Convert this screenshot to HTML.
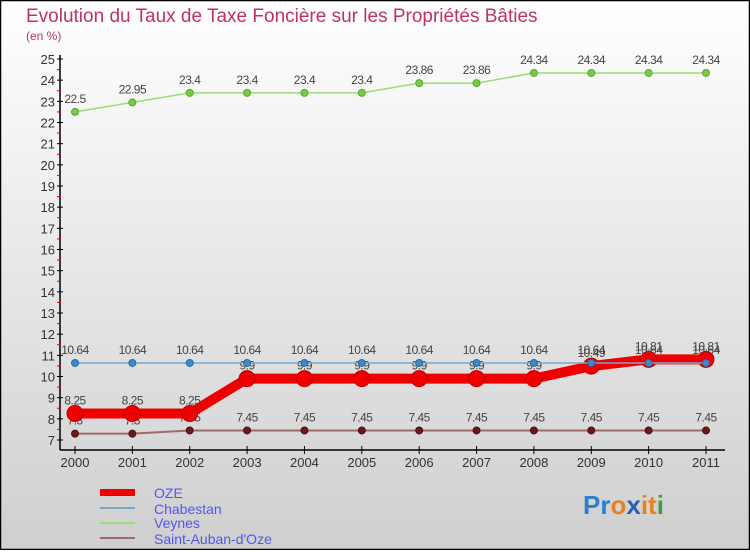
<!DOCTYPE html>
<html><head><meta charset="utf-8"><style>
html,body{margin:0;padding:0;}
body{width:750px;height:550px;overflow:hidden;font-family:"Liberation Sans",sans-serif;}
</style></head><body>
<svg id="chart" width="750" height="550" xmlns="http://www.w3.org/2000/svg">
<defs><linearGradient id="bg" x1="0" y1="0" x2="0" y2="1"><stop offset="0" stop-color="#ffffff"/><stop offset="1" stop-color="#cfcfcf"/></linearGradient></defs>
<rect x="0.5" y="0.5" width="749" height="549" fill="url(#bg)" stroke="#000" stroke-width="1.5"/>
<text x="26" y="22" font-size="19" fill="#c0306a">Evolution du Taux de Taxe Foncière sur les Propriétés Bâties</text>
<text x="26" y="40" font-size="12" fill="#c0306a">(en %)</text>
<g id="plot"></g>
<g>
<rect x="100" y="489" width="35" height="7" fill="#ee0000"/>
<text x="154" y="498" font-size="14" fill="#5555ee">OZE</text>
<line x1="100" y1="508" x2="135" y2="508" stroke="#7aa7c7" stroke-width="2"/>
<text x="154" y="514" font-size="14" fill="#5555ee">Chabestan</text>
<line x1="100" y1="523" x2="135" y2="523" stroke="#99dd77" stroke-width="2"/>
<text x="154" y="528" font-size="14" fill="#5555ee">Veynes</text>
<line x1="100" y1="538" x2="135" y2="538" stroke="#9b6b6b" stroke-width="2"/>
<text x="154" y="544" font-size="14" fill="#5555ee">Saint-Auban-d'Oze</text>
</g>
<g font-size="26" font-weight="bold">
<text x="583" y="514"><tspan fill="#2a7fd4">Pr</tspan><tspan fill="#e8821e">o</tspan><tspan fill="#2a5fb4">x</tspan><tspan fill="#e8821e">it</tspan><tspan fill="#3aa040">i</tspan></text>
</g>
</svg>
<script>
const years = [2000,2001,2002,2003,2004,2005,2006,2007,2008,2009,2010,2011];
const ozeValues = [8.25,8.25,8.25,9.9,9.9,9.9,9.9,9.9,9.9,10.49,10.81,10.81];
const chabestanValues = [10.64,10.64,10.64,10.64,10.64,10.64,10.64,10.64,10.64,10.64,10.64,10.64];
const veynesValues = [22.5,22.95,23.4,23.4,23.4,23.4,23.86,23.86,24.34,24.34,24.34,24.34];
const saintAubanValues = [7.3,7.3,7.45,7.45,7.45,7.45,7.45,7.45,7.45,7.45,7.45,7.45];
const yTicks = [7,8,9,10,11,12,13,14,15,16,17,18,19,20,21,22,23,24,25];

const NS="http://www.w3.org/2000/svg";
const plot=document.getElementById('plot');
const x=i=>75+i*(706-75)/(years.length-1);
const y=v=>440-(v-7)*(440-59)/18;
function mk(tag,attrs,parent){const e=document.createElementNS(NS,tag);for(const k in attrs)e.setAttribute(k,attrs[k]);(parent||plot).appendChild(e);return e;}

// axes
const ax=mk('g',{});


const ya=mk('line',{x1:60,y1:55,x2:60,y2:450,stroke:'#000','stroke-width':1.5},ax);


const xa=mk('line',{x1:60,y1:450,x2:725,y2:450,stroke:'#000','stroke-width':1.5},ax);


yTicks.forEach((t,i)=>{
  const tk=mk('line',{x1:57,y1:y(t),x2:63,y2:y(t),stroke:'#000'},ax);
  
  
  if(i<yTicks.length-1){const m=mk('line',{x1:57,y1:y(t+0.5),x2:61,y2:y(t+0.5),stroke:'#e00000'},ax);
  
  }
  const lb=mk('text',{x:55,y:y(t)+5,'font-size':13,'text-anchor':'end',fill:'#333'},ax);
  
  
  lb.textContent=t;
});
years.forEach((yr,i)=>{
  const tk=mk('line',{x1:x(i),y1:446,x2:x(i),y2:454,stroke:'#000'},ax);
  
  
  const lb=mk('text',{x:x(i),y:467,'font-size':13,'text-anchor':'middle',fill:'#333'},ax);
  
  
  lb.textContent=yr;
});

function series(name,vals,color,lw,r,dot,stroke){
  const g=mk('g',{});
  
  
  const p=mk('polyline',{points:vals.map((v,i)=>x(i)+','+y(v)).join(' '),fill:'none',stroke:color,'stroke-width':lw,'stroke-linejoin':'round'},g);
  
  
  vals.forEach((v,i)=>{
    const c=mk('circle',{cx:x(i),cy:y(v),r:r,fill:dot,stroke:stroke,'stroke-width':1},g);
    
    
    const t=mk('text',{x:x(i),y:y(v)-9,'font-size':12,'text-anchor':'middle',fill:'#444','letter-spacing':'-0.5'},g);
    
    
    t.textContent=v;
  });
}
series('saint-auban',saintAubanValues,'#9b6b6b',2,3.5,'#6b1a1a','#4a1010');
series('oze',ozeValues,'#ee0000',10,8,'#ee0000','#c00000');
series('chabestan',chabestanValues,'#7aa7c7',1.5,3.5,'#3a8ad0','#2a6aa0');
series('veynes',veynesValues,'#99dd77',1.5,3.5,'#77cc44','#55aa33');
</script>
</body></html>
